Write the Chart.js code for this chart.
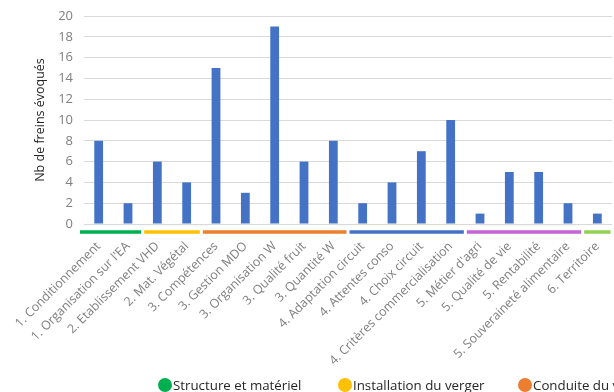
<!DOCTYPE html>
<html lang="fr">
<head>
<meta charset="utf-8">
<title>Freins évoqués par thème</title>
<script src="https://cdn.jsdelivr.net/npm/chart.js@4/dist/chart.umd.min.js"></script>
<style>
  html, body { margin: 0; padding: 0; background: #ffffff; }
  #wrap { width: 614px; height: 392px; position: relative; overflow: hidden; }
</style>
</head>
<body>
<div id="wrap"><canvas id="chart" width="614" height="392"></canvas></div>
<script>
// Freins cités, par thème (préfixe = numéro du thème)
const categories = [
  "1. Conditionnement",
  "1. Organisation sur l'EA",
  "2. Etablissement VHD",
  "2. Mat. Végétal",
  "3. Compétences",
  "3. Gestion MDO",
  "3. Organisation W",
  "3. Qualité fruit",
  "3. Quantité W",
  "4. Adaptation circuit",
  "4. Attentes conso",
  "4. Choix circuit",
  "4. Critères commercialisation",
  "5. Métier d'agri",
  "5. Qualité de vie",
  "5. Rentabilité",
  "5. Souveraineté alimentaire",
  "6. Territoire"
];
const freins = [8, 2, 6, 4, 15, 3, 19, 6, 8, 2, 4, 7, 10, 1, 5, 5, 2, 1];

// Thèmes : nombre de catégories couvertes et couleur du trait sous l'axe
const groupNames = [
  "Structure et matériel",
  "Installation du verger",
  "Conduite du verger",
  "Commercialisation",
  "Métier et revenu",
  "Territoire"
];
const groupSizes = [2, 2, 5, 4, 4, 1];
const groupColors = ["#00b050", "#ffc000", "#ed7d31", "#4472c4", "#c462d6", "#92d050"];

const yTicks = [0, 2, 4, 6, 8, 10, 12, 14, 16, 18, 20];

// Traits de couleur regroupant les catégories d'un même thème
const groupBands = {
  id: "groupBands",
  afterDatasetsDraw(chart) {
    const x = chart.scales.x;
    const ctx = chart.ctx;
    const step = x.getPixelForValue(1) - x.getPixelForValue(0);
    const y = chart.chartArea.bottom + 8;
    let start = 0;
    ctx.save();
    ctx.lineWidth = 3.5;
    groupSizes.forEach((n, g) => {
      const end = start + n - 1;
      const x0 = x.getPixelForValue(start) - step / 2 + (g === 0 ? -4 : 1.5);
      const x1 = x.getPixelForValue(end) + step / 2 - 1.5;
      ctx.strokeStyle = groupColors[g];
      ctx.beginPath();
      ctx.moveTo(x0, y);
      ctx.lineTo(x1, y);
      ctx.stroke();
      start = end + 1;
    });
    ctx.restore();
  }
};

// Légende des thèmes, une ligne sous le graphique
const groupLegend = {
  id: "groupLegend",
  afterDraw(chart) {
    const ctx = chart.ctx;
    const y = 385;
    ctx.save();
    ctx.font = "13.3px 'Open Sans'";
    ctx.textBaseline = "middle";
    groupNames.forEach((name, g) => {
      const cx = 165 + g * 180;
      ctx.fillStyle = groupColors[g];
      ctx.beginPath();
      ctx.arc(cx, y, 7, 0, Math.PI * 2);
      ctx.fill();
      ctx.fillStyle = "#262626";
      ctx.fillText(name, cx + 8, y + 1);
    });
    ctx.restore();
  }
};

new Chart(document.getElementById("chart"), {
  type: "bar",
  data: {
    labels: categories,
    datasets: [{
      label: "Nb de freins évoqués",
      data: freins,
      backgroundColor: "#4472c4",
      borderWidth: 0,
      categoryPercentage: 1,
      barPercentage: 0.3
    }]
  },
  options: {
    responsive: false,
    animation: false,
    layout: { padding: { top: 16, right: 2, left: 0, bottom: 0 } },
    plugins: {
      legend: { display: false },
      tooltip: { enabled: false },
      title: { display: false }
    },
    scales: {
      x: {
        grid: { display: false, drawTicks: false },
        border: { display: false },
        ticks: {
          autoSkip: false,
          minRotation: 45,
          maxRotation: 45,
          padding: 15,
          color: "#7f7f7f",
          font: { family: "'Open Sans'", size: 12.4 }
        },
        afterFit(scale) {
          scale.height = 168;
          scale.paddingLeft = 0;
          scale.paddingRight = 0;
        }
      },
      y: {
        min: 0,
        max: 20,
        afterBuildTicks(scale) { scale.ticks = yTicks.map(v => ({ value: v })); },
        grid: { color: "#d9d9d9", lineWidth: 1, drawTicks: false },
        border: { display: false },
        ticks: {
          padding: 11,
          color: "#7f7f7f",
          font: { family: "'Open Sans'", size: 13 }
        },
        title: {
          display: true,
          text: "Nb de freins évoqués",
          color: "#262626",
          padding: { top: 33, bottom: 0 },
          font: { family: "'Open Sans'", size: 12.5 }
        },
        afterFit(scale) {
          scale.width = 84;
          scale.paddingTop = 0;
          scale.paddingBottom = 0;
        }
      }
    }
  },
  plugins: [groupBands, groupLegend]
});
</script>
</body>
</html>
